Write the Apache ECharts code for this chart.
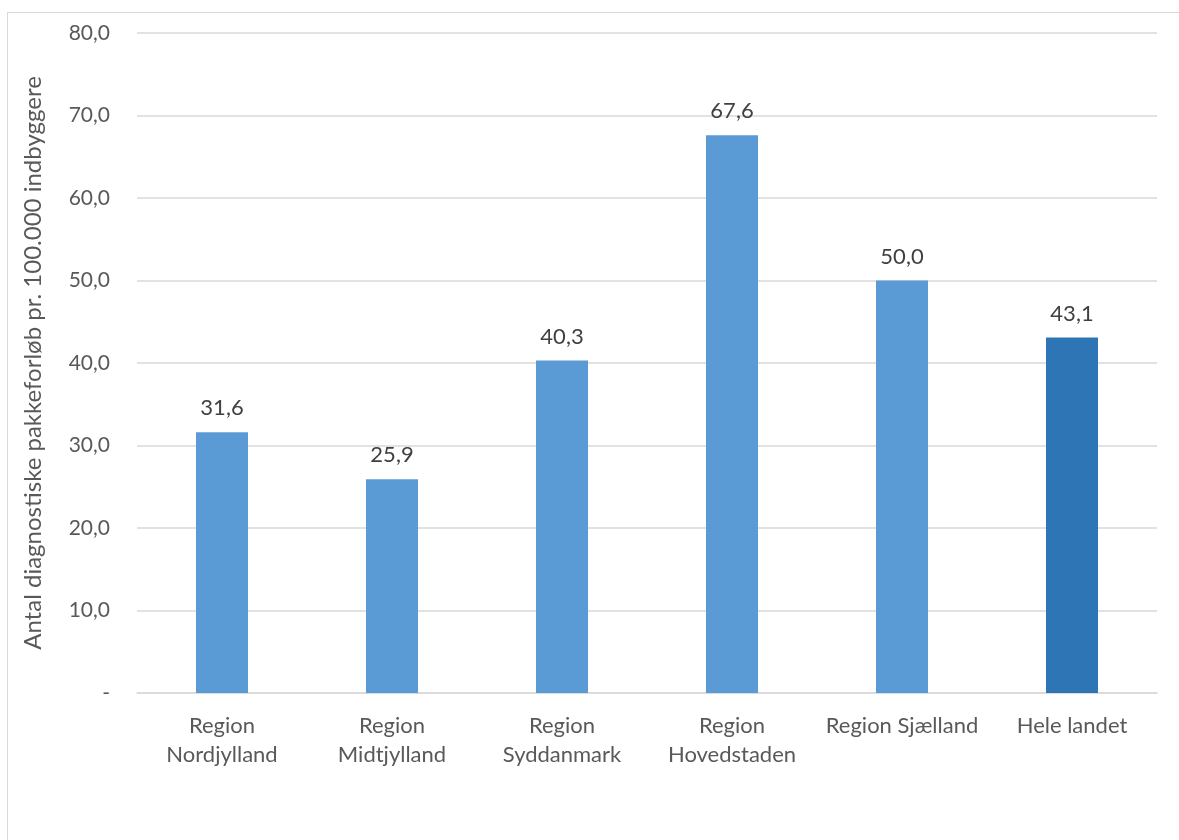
<!DOCTYPE html>
<html>
<head>
<meta charset="utf-8">
<script src="https://cdn.jsdelivr.net/npm/echarts@6/dist/echarts.min.js"></script>
<style>
html,body{margin:0;padding:0;background:#fff;}
#wrap{position:absolute;left:0;top:0;width:1179px;height:840px;}
#frame{position:absolute;left:7px;top:12px;width:1200px;height:900px;border-left:1px solid #D9D9D9;border-top:1px solid #D9D9D9;}
#chart{position:absolute;left:0;top:0;width:1179px;height:840px;}
</style>
</head>
<body>
<div id="wrap"><div id="frame"></div><div id="chart"></div></div>
<script>
const categories = ["Region\nNordjylland","Region\nMidtjylland","Region\nSyddanmark","Region\nHovedstaden","Region Sjælland","Hele landet"];
const values = [31.6, 25.9, 40.3, 67.6, 50.0, 43.1];
const barColors = ["#5B9BD5","#5B9BD5","#5B9BD5","#5B9BD5","#5B9BD5","#2E75B6"];
const yTitle = "Antal diagnostiske pakkeforløb pr. 100.000 indbyggere";

const fmt = v => v === 0 ? "-" : v.toFixed(1).replace(".", ",");
const chart = echarts.init(document.getElementById('chart'));
chart.setOption({
  animation:false,
  grid:{left:137,right:22,top:33,bottom:147},
  xAxis:{type:'category',data:categories,
    axisLine:{lineStyle:{color:'#D9D9D9',width:1.5}},axisTick:{show:false},
    axisLabel:{color:'#595959',fontFamily:'Lato',fontSize:22,lineHeight:29,margin:18,interval:0}},
  yAxis:{type:'value',min:0,max:80,interval:10,
    name:yTitle,nameLocation:'middle',nameGap:92,nameRotate:90,
    nameTextStyle:{color:'#595959',fontFamily:'Lato',fontSize:24},
    axisLine:{show:false},axisTick:{show:false},
    splitLine:{lineStyle:{color:'#D9D9D9',width:1.5}},
    axisLabel:{color:'#595959',fontFamily:'Lato',fontSize:21,margin:27,formatter:fmt}},
  series:[{type:'bar',barWidth:52,
    data:values.map((v,i)=>({value:v,itemStyle:{color:barColors[i]}})),
    label:{show:true,position:'top',distance:13,color:'#404040',fontFamily:'Lato',fontSize:22,formatter:p=>fmt(p.value)}}]
});
</script>
</body>
</html>
